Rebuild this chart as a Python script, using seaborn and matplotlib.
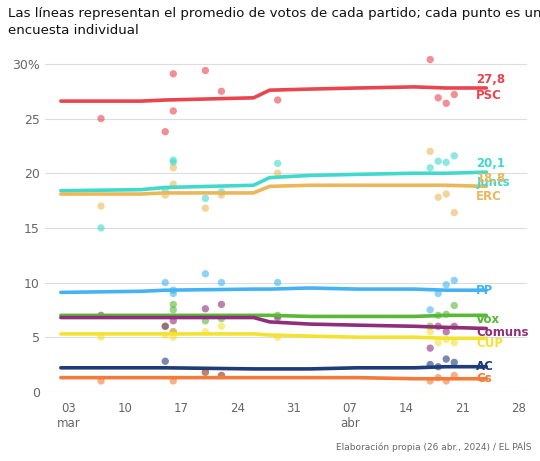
import matplotlib
matplotlib.use("Agg")
import matplotlib.pyplot as plt
import seaborn as sns
import pandas as pd

parties = ["PSC", "Junts", "ERC", "PP", "Vox", "Comuns", "CUP", "AC", "Cs"]
colors = ["#e8454f", "#40d9cc", "#eab85a", "#45b3f2", "#5ab837", "#8f2f7a", "#f4e233", "#1d3c78", "#f07b3a"]
label_vals = [27.8, 20.1, 18.8]

line_dates = ["2024-03-02", "2024-03-12", "2024-03-15", "2024-03-26", "2024-03-28", "2024-04-02", "2024-04-08", "2024-04-15", "2024-04-19", "2024-04-24"]
line_vals = {
    "PSC":    [26.6, 26.6, 26.7, 26.9, 27.6, 27.7, 27.8, 27.9, 27.8, 27.8],
    "Junts":  [18.4, 18.5, 18.7, 18.9, 19.6, 19.8, 19.9, 20.0, 20.0, 20.1],
    "ERC":    [18.1, 18.1, 18.2, 18.2, 18.8, 18.9, 18.9, 18.9, 18.9, 18.8],
    "PP":     [9.1, 9.2, 9.3, 9.4, 9.4, 9.5, 9.4, 9.4, 9.3, 9.3],
    "Vox":    [7.0, 7.0, 7.0, 7.0, 7.0, 6.9, 6.9, 6.9, 7.0, 7.0],
    "Comuns": [6.8, 6.8, 6.8, 6.8, 6.4, 6.2, 6.1, 6.0, 5.9, 5.8],
    "CUP":    [5.3, 5.3, 5.3, 5.3, 5.2, 5.1, 5.0, 5.0, 4.9, 4.9],
    "AC":     [2.2, 2.2, 2.2, 2.1, 2.1, 2.1, 2.2, 2.2, 2.3, 2.3],
    "Cs":     [1.3, 1.3, 1.3, 1.3, 1.3, 1.3, 1.3, 1.2, 1.2, 1.2],
}

poll_dates = ["2024-03-07", "2024-03-15", "2024-03-16", "2024-03-16", "2024-03-20", "2024-03-22", "2024-03-29", "2024-04-17", "2024-04-18", "2024-04-19", "2024-04-20"]
poll_vals = {
    "PSC":    [25.0, 23.8, 29.1, 25.7, 29.4, 27.5, 26.7, 30.4, 26.9, 26.4, 27.2],
    "Junts":  [15.0, 18.5, 21.2, 21.0, 17.7, 18.3, 20.9, 20.5, 21.1, 21.0, 21.6],
    "ERC":    [17.0, 18.0, 20.5, 19.0, 16.8, 18.0, 20.0, 22.0, 17.8, 18.1, 16.4],
    "PP":     [None, 10.0, 9.0, 9.3, 10.8, 10.0, 10.0, 7.5, 9.0, 9.8, 10.2],
    "Vox":    [None, 6.0, 8.0, 7.5, 6.5, 6.7, 7.0, 6.0, 7.0, 7.1, 7.9],
    "Comuns": [7.0, 6.0, 5.5, 6.5, 7.6, 8.0, 6.8, 4.0, 6.0, 5.5, 6.0],
    "CUP":    [5.0, 5.2, 5.0, 5.5, 5.5, 6.0, 5.0, 5.5, 4.5, 4.8, 4.5],
    "AC":     [None, 2.8, None, None, 1.8, 1.5, None, 2.5, 2.3, 3.0, 2.7],
    "Cs":     [1.0, None, 1.0, None, 1.8, 1.5, None, 1.0, 1.3, 1.0, 1.5],
}

sns.set_style("white")
fig, ax = plt.subplots(figsize=(5.4, 4.61), dpi=100)
fig.subplots_adjust(left=0.083, right=0.975, top=0.885, bottom=0.15)

ld = pd.to_datetime(line_dates)
pd_ = pd.to_datetime(poll_dates)
for p, c in zip(parties, colors):
    pts = pd.DataFrame({"d": pd_, "v": poll_vals[p]}).dropna()
    sns.scatterplot(data=pts, x="d", y="v", color=c, alpha=0.6, s=28, edgecolor="none", ax=ax, zorder=2)
    sns.lineplot(x=ld, y=line_vals[p], color=c, lw=2.6, ax=ax, zorder=3)

lx = pd.Timestamp("2024-04-22 18:00")
for p, c, v in zip(parties[:3], colors[:3], label_vals):
    ax.text(lx, v + 0.75, f"{v:.1f}".replace(".", ","), color=c, fontsize=8.5, fontweight="bold", va="center", zorder=5)
    ax.text(lx, v - 0.7 if p == "PSC" else v - 0.95, p, color=c, fontsize=8.5, fontweight="bold", va="center", zorder=5)
small_y = {"PP": 9.3, "Vox": 7.0, "Comuns": 5.8, "CUP": 4.8, "AC": 2.3, "Cs": 1.2}
for p, c in zip(parties[3:], colors[3:]):
    ax.text(lx, small_y[p] - 0.35 if p in ("Comuns", "CUP", "Vox") else small_y[p], p, color=c,
            fontsize=8.5, fontweight="bold", va="center", zorder=5)

ax.set_xlim(pd.Timestamp("2024-02-29"), pd.Timestamp("2024-04-29"))
ax.set_ylim(0, 31)
ax.set_yticks([0, 5, 10, 15, 20, 25, 30])
ax.set_yticklabels(["0", "5", "10", "15", "20", "25", "30%"], color="#666", fontsize=9)
ticks = pd.to_datetime(["2024-03-03", "2024-03-10", "2024-03-17", "2024-03-24", "2024-03-31", "2024-04-07", "2024-04-14", "2024-04-21", "2024-04-28"])
ax.set_xticks(ticks)
ax.set_xticklabels(["03\nmar", "10", "17", "24", "31", "07\nabr", "14", "21", "28"], color="#666", fontsize=8.5)
for t in ax.get_xticklabels():
    t.set_verticalalignment("top")
    t.set_horizontalalignment("center")
ax.grid(axis="y", color="#dddddd", lw=0.8)
ax.tick_params(axis="x", length=4, color="#999", pad=3)
ax.tick_params(axis="y", length=0)
for s in ["top", "right", "left", "bottom"]:
    ax.spines[s].set_visible(False)
ax.set_xlabel(""); ax.set_ylabel("")

fig.text(0.015, 0.985, "Las líneas representan el promedio de votos de cada partido; cada punto es una\nencuesta individual",
         fontsize=9.6, va="top", ha="left", color="#111", linespacing=1.4)
fig.text(0.985, 0.02, "Elaboración propia (26 abr., 2024) / EL PAÍS", fontsize=6.5, color="#666", ha="right", va="bottom")
fig.savefig("out.png", dpi=100)
